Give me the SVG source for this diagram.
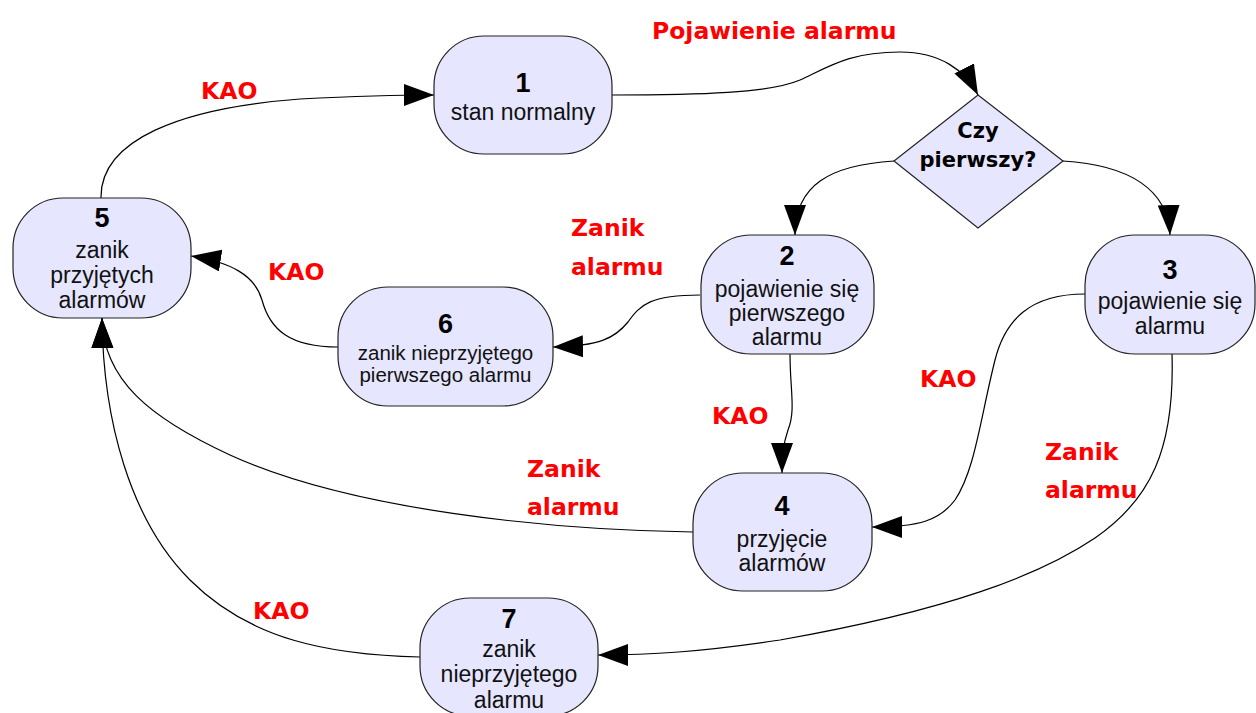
<svg xmlns="http://www.w3.org/2000/svg" width="1256" height="713" viewBox="0 0 1256 713">
<style>
.node{fill:#e6e6ff;stroke:#222;stroke-width:1.2}
.num{font-family:"Liberation Sans",Arial,sans-serif;font-weight:bold;font-size:27px;fill:#000;text-anchor:middle}
.txt{font-family:"Liberation Sans",Arial,sans-serif;font-size:23px;fill:#111;text-anchor:middle}
.sm{font-size:20.5px}
.lbl{font-family:"DejaVu Sans",sans-serif;font-weight:bold;font-size:23.5px;fill:#ff0000}
.dt{font-family:"DejaVu Sans",sans-serif;font-weight:bold;font-size:21px;fill:#000;text-anchor:middle}
.edge{fill:none;stroke:#000;stroke-width:1.2;marker-end:url(#arr)}
</style>
<defs>
<marker id="arr" markerUnits="userSpaceOnUse" markerWidth="31" markerHeight="23" refX="30" refY="11" orient="auto">
<path d="M0,0 L30,11 L0,22 z" fill="#000"/>
</marker>
</defs>
<rect width="1256" height="713" fill="#fff"/>
<g id="connectors">
<path class="edge" d="M612,95 C700,95 770,93 800,80 C830,66 850,52 900,52 C940,52 965,70 978,95"/>
<path class="edge" d="M101,198 C100,140 180,108 300,99 C360,96 400,95 434,95"/>
<path class="edge" d="M894,161 C830,165 795,185 795,235"/>
<path class="edge" d="M1063,161 C1130,165 1168,190 1170,235"/>
<path class="edge" d="M700,295 C650,295 640,305 628,322 C615,338 600,346 553,347"/>
<path class="edge" d="M338,347 C290,347 270,330 262,300 C255,275 230,262 191,256"/>
<path class="edge" d="M790,354 C790,390 796,410 788,430 C783,445 782,455 782,473"/>
<path class="edge" d="M1085,294 C1030,294 1005,320 995,360 C980,420 975,470 955,500 C940,520 920,527 872,527"/>
<path class="edge" d="M1172,354 C1175,450 1150,500 1095,538 C1040,575 950,610 780,640 C700,652 650,655 598,655"/>
<path class="edge" d="M693,532 C550,530 350,510 230,455 C150,418 103,380 102,318"/>
<path class="edge" d="M420,657 C330,655 250,640 190,580 C130,520 103,420 102,318"/>
</g>
<g id="n1"><rect class="node" x="434" y="36" width="178" height="118" rx="50" ry="50"/><text class="num" x="523" y="92">1</text><text class="txt" x="523" y="120">stan normalny</text></g>
<g id="decision"><polygon class="node" points="978,95 1063,161 978,228 894,161"/><text class="dt" x="978" y="138">Czy</text><text class="dt" x="978" y="167">pierwszy?</text></g>
<g id="n5"><rect class="node" x="13" y="198" width="178" height="120" rx="50" ry="50"/><text class="num" x="102" y="227">5</text><text class="txt" x="102" y="258">zanik</text><text class="txt" x="102" y="283">przyjętych</text><text class="txt" x="102" y="308">alarmów</text></g>
<g id="n6"><rect class="node" x="338" y="287" width="215" height="119" rx="50" ry="50"/><text class="num" x="445.5" y="333">6</text><text class="txt sm" x="445.5" y="360">zanik nieprzyjętego</text><text class="txt sm" x="445.5" y="382">pierwszego alarmu</text></g>
<g id="n2"><rect class="node" x="701" y="235" width="173" height="119" rx="50" ry="50"/><text class="num" x="787" y="265">2</text><text class="txt" x="787" y="297">pojawienie się</text><text class="txt" x="787" y="321">pierwszego</text><text class="txt" x="787" y="345">alarmu</text></g>
<g id="n3"><rect class="node" x="1085" y="235" width="170" height="119" rx="50" ry="50"/><text class="num" x="1170" y="279">3</text><text class="txt" x="1170" y="309">pojawienie się</text><text class="txt" x="1170" y="334">alarmu</text></g>
<g id="n4"><rect class="node" x="693" y="473" width="179" height="118" rx="50" ry="50"/><text class="num" x="782" y="515">4</text><text class="txt" x="782" y="547">przyjęcie</text><text class="txt" x="782" y="571">alarmów</text></g>
<g id="n7"><rect class="node" x="420" y="598" width="178" height="118" rx="50" ry="50"/><text class="num" x="509" y="628">7</text><text class="txt" x="509" y="657">zanik</text><text class="txt" x="509" y="682">nieprzyjętego</text><text class="txt" x="509" y="708">alarmu</text></g>
<g id="labels">
<text class="lbl" x="652" y="39">Pojawienie alarmu</text>
<text class="lbl" x="201" y="99">KAO</text>
<text class="lbl" x="571" y="236">Zanik</text><text class="lbl" x="571" y="275">alarmu</text>
<text class="lbl" x="268" y="280">KAO</text>
<text class="lbl" x="712" y="424">KAO</text>
<text class="lbl" x="920" y="387">KAO</text>
<text class="lbl" x="1045" y="460">Zanik</text><text class="lbl" x="1045" y="498">alarmu</text>
<text class="lbl" x="527" y="477">Zanik</text><text class="lbl" x="527" y="515">alarmu</text>
<text class="lbl" x="253" y="619">KAO</text>
</g>
</svg>
